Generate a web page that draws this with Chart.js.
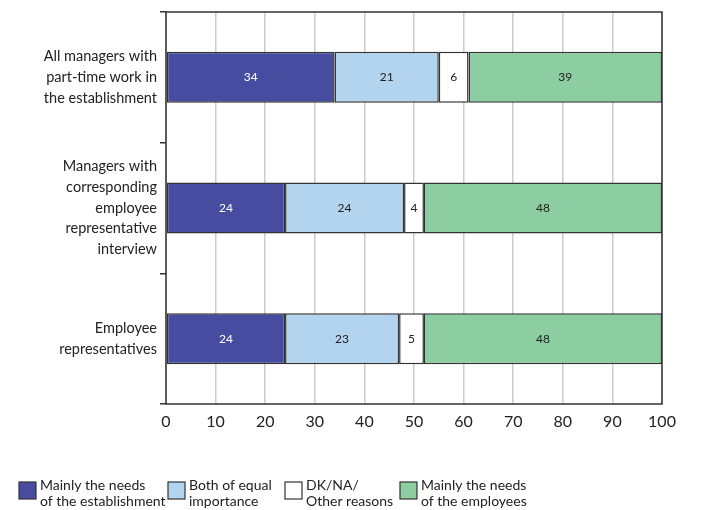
<!DOCTYPE html>
<html>
<head>
<meta charset="utf-8">
<script src="https://cdn.jsdelivr.net/npm/chart.js@4/dist/chart.umd.min.js"></script>
<style>
html,body{margin:0;padding:0;background:#fff;}
#wrap{width:704px;height:510px;position:relative;}
</style>
</head>
<body>
<div id="wrap"><canvas id="c" width="704" height="510"></canvas></div>
<script>
const categories = [
  ["All managers with", "part-time work in", "the establishment"],
  ["Managers with", "corresponding", "employee", "representative", "interview"],
  ["Employee", "representatives"]
];
const seriesNames = [
  ["Mainly the needs", "of the establishment"],
  ["Both of equal", "importance"],
  ["DK/NA/", "Other reasons"],
  ["Mainly the needs", "of the employees"]
];
const establishment = [34, 24, 24];
const equal = [21, 24, 23];
const dkna = [6, 4, 5];
const employees = [39, 48, 48];
const xTicks = [0, 10, 20, 30, 40, 50, 60, 70, 80, 90, 100];

const colors = ["#464c9f", "#b3d4ef", "#ffffff", "#8ccda1"];
const labelColors = ["#ffffff", "#222222", "#222222", "#222222"];
const FONT = "Lato, sans-serif";

const valueLabels = {
  id: 'valueLabels',
  afterDatasetsDraw(chart) {
    const ctx = chart.ctx;
    ctx.save();
    ctx.font = "12px " + FONT;
    ctx.textAlign = 'center';
    ctx.textBaseline = 'middle';
    chart.data.datasets.forEach((ds, i) => {
      const meta = chart.getDatasetMeta(i);
      meta.data.forEach((el, j) => {
        const x = (el.x + el.base) / 2;
        ctx.fillStyle = labelColors[i];
        ctx.fillText(String(ds.data[j]), x, el.y);
      });
    });
    ctx.restore();
  }
};

const frame = {
  id: 'frame',
  beforeDatasetsDraw(chart) {
    const a = chart.chartArea, ctx = chart.ctx;
    ctx.save();
    ctx.strokeStyle = '#333333';
    ctx.lineWidth = 1.5;
    ctx.strokeRect(a.left, a.top, a.right - a.left, a.bottom - a.top);
    ctx.restore();
  }
};

const legendPlugin = {
  id: 'customLegend',
  afterDraw(chart) {
    const ctx = chart.ctx;
    const boxX = [19, 168, 285, 400];
    const boxY = 482, bw = 17, bh = 17;
    ctx.save();
    ctx.font = "14px " + FONT;
    ctx.textBaseline = 'middle';
    ctx.textAlign = 'left';
    seriesNames.forEach((lines, i) => {
      ctx.fillStyle = colors[i];
      ctx.fillRect(boxX[i], boxY, bw, bh);
      ctx.strokeStyle = '#333333';
      ctx.lineWidth = 1.2;
      ctx.strokeRect(boxX[i], boxY, bw, bh);
      ctx.fillStyle = '#222222';
      lines.forEach((t, k) => ctx.fillText(t, boxX[i] + bw + 4, 485 + k * 16));
    });
    ctx.restore();
  }
};

const datasets = [establishment, equal, dkna, employees].map((d, i) => ({
  label: seriesNames[i].join(' '),
  data: d,
  backgroundColor: colors[i],
  borderColor: '#333333',
  borderWidth: 1.5,
  borderSkipped: false,
  categoryPercentage: 1,
  barPercentage: 0.39
}));

new Chart(document.getElementById('c'), {
  type: 'bar',
  data: { labels: categories, datasets },
  plugins: [frame, valueLabels, legendPlugin],
  options: {
    indexAxis: 'y',
    responsive: false,
    animation: false,
    layout: { padding: { top: 12, right: 42, bottom: 76, left: 0 } },
    plugins: { legend: { display: false }, tooltip: { enabled: false } },
    scales: {
      x: {
        stacked: true,
        min: 0, max: 100,
        afterBuildTicks(scale) { scale.ticks = xTicks.map(v => ({ value: v })); },
        afterFit(scale) { scale.height = 30; },
        grid: { color: '#cccccc', lineWidth: 1.5, drawTicks: false },
        border: { display: false },
        ticks: { font: { family: FONT, size: 16 }, color: '#222222', padding: 8, maxRotation: 0 }
      },
      y: {
        stacked: true,
        afterFit(scale) { scale.width = 166; scale.paddingTop = 0; scale.paddingBottom = 0; },
        grid: { offset: true, drawOnChartArea: false, drawTicks: true, tickLength: 6, color: '#333333', lineWidth: 1.5 },
        border: { display: false },
        ticks: { font: { family: FONT, size: 14.5, lineHeight: 1.42 }, color: '#222222', padding: 3 }
      }
    }
  }
});
</script>
</body>
</html>
